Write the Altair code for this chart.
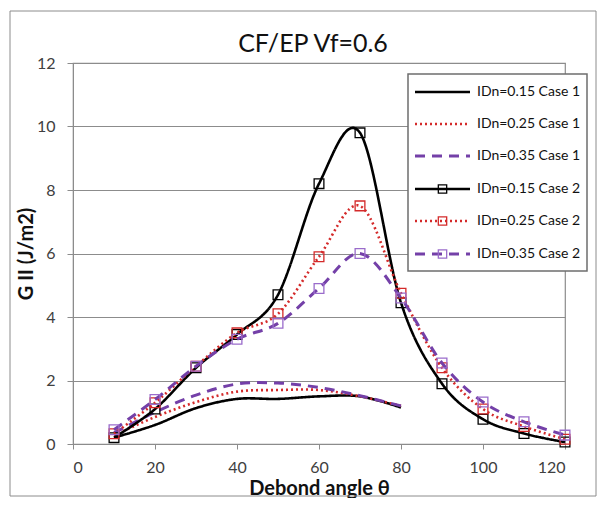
import altair as alt
import pandas as pd

# ---- data ----
theta_case2 = [10, 20, 30, 40, 50, 60, 70, 80, 90, 100, 110, 120]
case2_015 = [0.2, 1.1, 2.4, 3.45, 4.7, 8.2, 9.8, 4.45, 1.9, 0.78, 0.33, 0.06]
case2_025 = [0.32, 1.3, 2.45, 3.5, 4.1, 5.9, 7.5, 4.75, 2.4, 1.1, 0.55, 0.15]
case2_035 = [0.45, 1.4, 2.45, 3.3, 3.8, 4.9, 6.0, 4.6, 2.55, 1.32, 0.7, 0.28]

theta_case1 = [10, 20, 30, 40, 50, 60, 70, 80]
case1_015 = [0.2, 0.6, 1.13, 1.42, 1.42, 1.5, 1.5, 1.15]
case1_025 = [0.27, 0.85, 1.32, 1.65, 1.7, 1.7, 1.5, 1.2]
case1_035 = [0.35, 1.0, 1.54, 1.89, 1.92, 1.78, 1.52, 1.2]

legend_labels = ["IDn=0.15 Case 1", "IDn=0.25 Case 1", "IDn=0.35 Case 1",
                 "IDn=0.15 Case 2", "IDn=0.25 Case 2", "IDn=0.35 Case 2"]
chart_title = "CF/EP Vf=0.6"

BLACK = "#000000"
RED = "#D42A2A"
PURPLE = "#7440A8"
PURPLE_SQ = "#9A6CCB"
FONT = "Lato"

styles = {
    "black": dict(color=BLACK, strokeWidth=2.6, strokeDash=[1, 0]),
    "red": dict(color=RED, strokeWidth=2.6, strokeDash=[2, 3]),
    "purple": dict(color=PURPLE, strokeWidth=3, strokeDash=[10, 7]),
}

W, H = 492, 381
xs = alt.Scale(domain=[0, 120], nice=False)
ys = alt.Scale(domain=[0, 12], nice=False)

x_enc = alt.X("theta:Q", scale=xs,
              axis=alt.Axis(values=[0, 20, 40, 60, 80, 100, 120], grid=False,
                            title="Debond angle θ", titleFontSize=20, titleFontWeight="bold",
                            titleFont=FONT, titleColor="#111", titlePadding=3,
                            labelFont=FONT, labelFontSize=16, labelColor="#404040",
                            labelPadding=10, tickSize=5, tickColor="#8C8C8C",
                            domainColor="#8C8C8C"))
y_enc = alt.Y("g:Q", scale=ys,
              axis=alt.Axis(values=[0, 2, 4, 6, 8, 10, 12], grid=True, gridColor="#8C8C8C",
                            title="G II (J/m2)", titleFontSize=20, titleFontWeight="bold",
                            titleFont=FONT, titleColor="#111", titlePadding=0,
                            labelFont=FONT, labelFontSize=16, labelColor="#404040",
                            labelPadding=12, tickSize=6, tickColor="#8C8C8C",
                            domainColor="#8C8C8C"))


def line_layer(xv, yv, style):
    df = pd.DataFrame({"theta": xv, "g": yv})
    s = styles[style]
    return alt.Chart(df).mark_line(interpolate="cardinal", color=s["color"],
                                   strokeWidth=s["strokeWidth"],
                                   strokeDash=s["strokeDash"]).encode(x=x_enc, y=y_enc)


def point_layer(xv, yv, color):
    df = pd.DataFrame({"theta": xv, "g": yv})
    return alt.Chart(df).mark_point(shape="square", size=95, filled=False,
                                    color=color, strokeWidth=1.3, opacity=1).encode(x=x_enc, y=y_enc)


layers = [
    line_layer(theta_case1, case1_015, "black"),
    line_layer(theta_case1, case1_025, "red"),
    line_layer(theta_case1, case1_035, "purple"),
    line_layer(theta_case2, case2_015, "black"),
    point_layer(theta_case2, case2_015, BLACK),
    line_layer(theta_case2, case2_025, "red"),
    point_layer(theta_case2, case2_025, RED),
    line_layer(theta_case2, case2_035, "purple"),
    point_layer(theta_case2, case2_035, PURPLE_SQ),
]

one = pd.DataFrame({"a": [0]})

# outer chart frame
layers.append(alt.Chart(one).mark_rect(fill=None, stroke="#8C8C8C", strokeWidth=1).encode(
    x=alt.value(-63), x2=alt.value(523), y=alt.value(-52), y2=alt.value(433)))

# chart title
layers.append(alt.Chart(one).mark_text(text=chart_title, align="center", baseline="middle",
                                       font=FONT, fontSize=25, color="#111").encode(
    x=alt.value(W / 2 - 6), y=alt.value(-19)))

# legend box
layers.append(alt.Chart(one).mark_rect(fill="white", stroke="#6E6E6E", strokeWidth=1.5).encode(
    x=alt.value(335), x2=alt.value(514), y=alt.value(11), y2=alt.value(208)))

leg_y = [29, 61, 93, 126, 158, 191]
leg_style = ["black", "red", "purple", "black", "red", "purple"]
leg_sq = [None, None, None, BLACK, RED, PURPLE_SQ]
for lab, yy, st, sq in zip(legend_labels, leg_y, leg_style, leg_sq):
    s = styles[st]
    layers.append(alt.Chart(one).mark_rule(color=s["color"], strokeWidth=s["strokeWidth"],
                                           strokeDash=s["strokeDash"]).encode(
        x=alt.value(342), x2=alt.value(397), y=alt.value(yy)))
    if sq:
        layers.append(alt.Chart(one).mark_point(shape="square", size=70, filled=False, color=sq,
                                                strokeWidth=1.3, opacity=1).encode(
            x=alt.value(369.5), y=alt.value(yy)))
    layers.append(alt.Chart(one).mark_text(text=lab, align="left", baseline="middle",
                                           font=FONT, fontSize=14, color="#111").encode(
        x=alt.value(404), y=alt.value(yy)))

chart = alt.layer(*layers).properties(
    width=W, height=H,
    autosize=alt.AutoSizeParams(type="none"),
    padding={"left": 65, "top": 55, "right": 33, "bottom": 54},
).configure_view(stroke="#8C8C8C", strokeWidth=1.2)

chart.save("out.html", embed_options={"renderer": "svg", "actions": False})
